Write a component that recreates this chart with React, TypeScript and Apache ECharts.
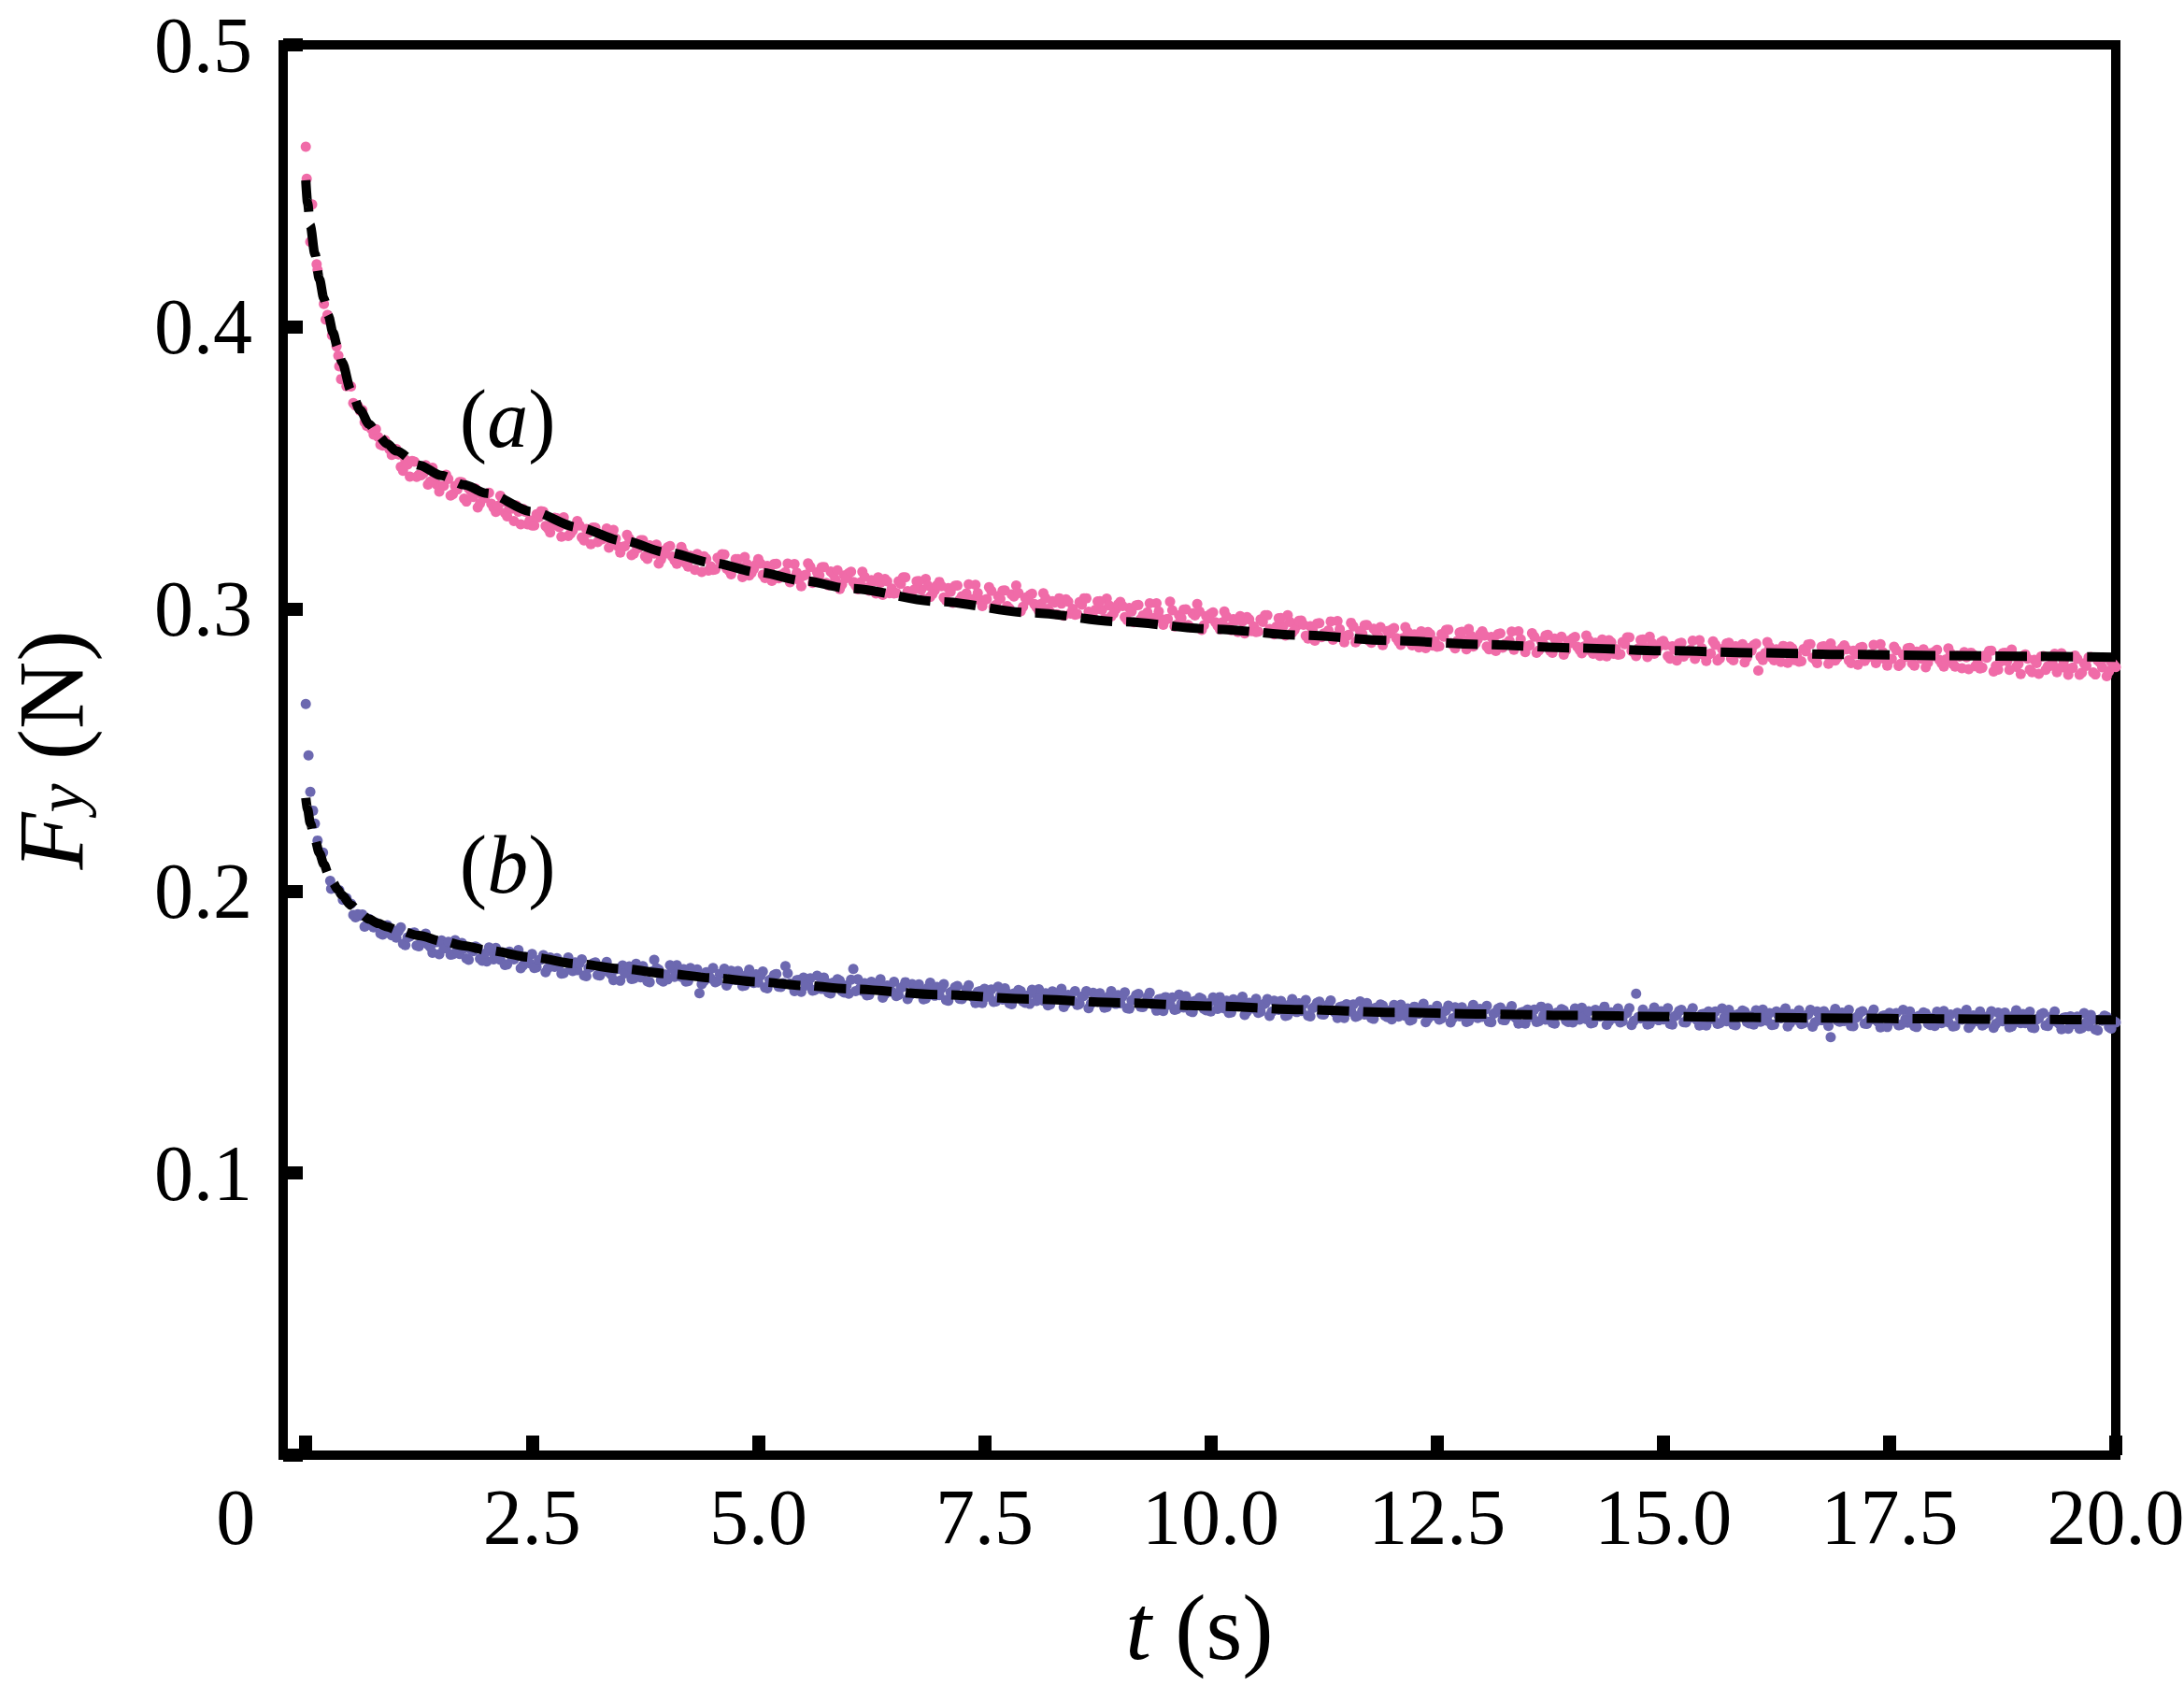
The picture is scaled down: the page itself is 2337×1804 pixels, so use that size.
import * as echarts from "echarts";
import { useEffect, useRef } from "react";

// sampled force, in mN. Tail arrays are read every 0.05 s from t = 0.5 s,
// the mid arrays every 0.05 s from t = 0.525 s (in between).
const sampleStep = 0.05;
const tailStart = 0.5;
const midStart = 0.525;

const pinkEarly: Array<[number, number]> = [
  [0, 463.9], [0.01, 452.5], [0.05, 430.2], [0.07, 443.4], [0.12, 422.2], [0.13, 420.2],
  [0.2, 408.1], [0.22, 402.6], [0.24, 404.2], [0.29, 397.0], [0.34, 393.1], [0.36, 389.8],
  [0.37, 386.0], [0.39, 381.5], [0.45, 379.0]
];

const pinkTail = [
  378.9, 372.1, 370.3, 366.2, 365.1, 361.8, 361.0, 357.9, 358.4, 354.6,
  356.7, 350.4, 352.9, 346.9, 352.2, 347.6, 348.1, 344.1, 350.1, 344.0,
  343.6, 347.6, 340.2, 343.6, 345.0, 339.1, 342.8, 339.7, 336.0, 340.4,
  340.9, 337.3, 334.4, 340.1, 334.1, 336.3, 331.2, 334.5, 335.5, 330.0,
  329.6, 333.6, 334.7, 329.4, 327.1, 332.3, 329.0, 332.5, 325.9, 327.9,
  331.2, 325.4, 328.4, 323.0, 328.8, 324.7, 325.4, 321.7, 328.0, 322.2,
  322.0, 326.3, 319.1, 322.7, 324.4, 318.7, 322.6, 319.7, 316.1, 320.7,
  321.9, 318.6, 316.0, 322.0, 316.2, 318.8, 313.9, 317.5, 318.7, 313.6,
  313.9, 318.2, 319.4, 314.4, 312.3, 317.7, 314.6, 318.4, 311.9, 314.2,
  317.7, 312.1, 315.3, 310.0, 316.0, 312.1, 313.0, 309.5, 315.9, 310.3,
  311.8, 316.2, 309.2, 313.0, 314.8, 309.2, 313.3, 310.5, 307.1, 311.9,
  312.7, 309.6, 307.0, 313.2, 307.6, 310.2, 305.5, 309.3, 310.6, 305.6,
  305.5, 309.8, 311.2, 306.3, 304.2, 309.8, 306.8, 310.6, 304.3, 306.7,
  309.6, 304.1, 307.4, 302.2, 308.3, 304.5, 305.5, 302.1, 308.6, 303.1,
  303.2, 307.7, 300.7, 304.6, 306.5, 301.0, 305.2, 308.3, 299.2, 304.0,
  304.9, 301.8, 299.4, 305.6, 300.0, 302.8, 298.1, 301.9, 303.4, 298.4,
  298.0, 302.4, 303.8, 299.0, 297.0, 302.7, 299.7, 303.7, 297.4, 299.9,
  302.5, 297.1, 300.4, 295.3, 301.4, 297.7, 298.8, 295.4, 302.0, 296.5,
  296.2, 302.6, 293.8, 297.8, 299.8, 294.3, 298.5, 301.8, 292.6, 297.5,
  298.3, 295.3, 292.8, 299.1, 293.6, 296.4, 291.8, 295.6, 297.1, 292.2,
  291.8, 296.3, 297.8, 292.9, 291.0, 296.7, 293.8, 297.8, 291.6, 294.1,
  295.9, 290.5, 293.9, 288.8, 295.0, 291.3, 292.4, 289.1, 295.7, 290.3,
  290.5, 295.1, 288.2, 292.2, 294.2, 288.8, 293.0, 290.4, 287.2, 292.2,
  292.7, 289.7, 287.3, 293.6, 288.2, 291.0, 286.4, 290.3, 291.8, 287.0,
  286.6, 291.1, 292.6, 287.9, 286.0, 291.7, 288.9, 292.9, 286.7, 289.3,
  292.1, 286.7, 290.1, 285.1, 291.3, 287.6, 288.8, 285.5, 292.1, 286.8,
  286.8, 291.4, 284.5, 288.6, 290.6, 285.2, 289.5, 286.9, 283.8, 288.7,
  289.6, 286.6, 284.3, 290.6, 285.1, 288.0, 283.4, 287.4, 288.9, 284.1,
  283.8, 288.3, 289.9, 285.1, 283.3, 289.0, 286.2, 290.2, 284.1, 286.6,
  288.7, 283.3, 286.8, 281.7, 288.0, 284.3, 285.5, 282.3, 288.9, 283.6,
  283.9, 288.5, 281.7, 285.8, 287.8, 282.5, 286.8, 284.2, 281.1, 286.1,
  287.2, 278.2, 281.9, 288.3, 282.8, 285.7, 281.2, 285.1, 286.7, 281.9,
  281.3, 285.8, 287.4, 282.7, 280.8, 286.6, 283.8, 287.8, 281.7, 284.3,
  287.1, 281.8, 285.2, 280.2, 286.5, 282.9, 284.0, 280.8, 287.5, 282.2,
  282.0, 286.6, 279.8, 283.9, 286.0, 280.7, 284.9, 282.4, 279.3, 284.3,
  284.9, 282.0, 279.6, 286.0, 280.6, 283.5, 279.0, 282.9, 284.5, 279.7,
  278.9, 283.5, 285.1, 277.8, 278.5, 284.3, 281.5, 285.6, 279.5, 276.9,
  283.9, 278.5, 282.0, 277.0, 283.3, 279.7, 280.8, 277.6, 284.3, 279.0,
  278.8, 283.5, 276.7, 280.7, 282.8, 277.5, 281.8, 279.3, 276.2, 281.2,
  279.4
];

const pinkMid = [
  373.0, 372.0, 370.5, 364.9, 363.8, 363.7, 358.3, 359.8, 356.6, 356.3,
  354.8, 349.0, 351.2, 352.5, 346.8, 347.4, 351.0, 345.2, 346.9, 341.6,
  343.7, 346.1, 340.7, 342.4, 344.9, 338.1, 341.8, 342.7, 337.4, 339.3,
  341.2, 335.9, 336.6, 338.1, 332.8, 335.6, 336.7, 330.0, 334.5, 331.4,
  329.6, 332.5, 334.5, 328.6, 329.6, 332.2, 325.6, 329.9, 326.7, 329.4,
  329.6, 324.3, 327.0, 328.9, 323.7, 324.7, 328.5, 323.0, 325.0, 320.0,
  322.2, 324.9, 319.7, 321.6, 324.4, 317.8, 321.7, 322.8, 317.6, 319.7,
  322.3, 317.3, 318.3, 320.1, 315.0, 318.2, 319.5, 313.1, 317.8, 315.1,
  314.0, 317.2, 319.3, 313.7, 314.9, 317.7, 311.3, 315.9, 312.8, 315.8,
  316.1, 311.0, 313.9, 315.9, 310.9, 312.1, 316.1, 310.8, 312.9, 308.1,
  312.1, 314.9, 309.9, 312.0, 314.9, 308.4, 312.5, 313.7, 308.7, 311.0,
  313.2, 308.4, 309.4, 311.4, 306.5, 309.7, 311.2, 305.0, 309.8, 307.2,
  305.7, 308.9, 311.2, 305.7, 306.9, 309.9, 303.6, 308.2, 305.3, 308.4,
  308.1, 303.1, 306.1, 308.2, 303.3, 304.6, 308.7, 303.5, 305.7, 301.0,
  303.5, 306.4, 301.4, 303.6, 306.6, 300.2, 304.4, 305.7, 300.8, 303.1,
  305.4, 300.6, 301.8, 303.8, 298.9, 302.3, 303.8, 297.6, 302.6, 300.0,
  298.2, 301.5, 303.8, 298.4, 299.7, 302.8, 296.5, 301.3, 298.4, 301.6,
  301.0, 296.1, 299.1, 301.3, 296.4, 297.8, 302.0, 296.8, 299.1, 294.4,
  296.5, 299.5, 294.5, 296.8, 299.9, 293.5, 297.7, 299.1, 294.2, 296.6,
  298.8, 294.1, 295.2, 297.3, 292.5, 295.9, 297.5, 291.3, 296.3, 293.8,
  292.0, 295.4, 297.8, 292.3, 293.7, 296.8, 290.6, 295.4, 292.6, 295.8,
  294.4, 289.5, 292.6, 294.8, 290.0, 291.4, 295.6, 290.5, 292.8, 288.2,
  290.8, 293.8, 288.9, 291.2, 294.3, 288.0, 292.2, 293.6, 288.9, 291.3,
  293.2, 288.5, 289.7, 291.9, 287.1, 290.5, 292.1, 286.1, 291.1, 288.6,
  286.8, 290.2, 292.7, 287.3, 288.7, 291.9, 285.7, 290.5, 287.8, 291.0,
  290.6, 285.7, 288.9, 291.1, 286.3, 287.8, 292.0, 286.9, 289.3, 284.7,
  287.1, 290.2, 285.3, 287.6, 290.8, 284.5, 288.8, 290.2, 285.4, 287.9,
  290.1, 285.5, 286.7, 288.9, 284.1, 287.6, 289.2, 283.2, 288.2, 285.8,
  284.0, 287.5, 289.9, 284.6, 286.0, 289.2, 283.0, 287.9, 285.1, 288.2,
  287.2, 282.4, 285.6, 287.8, 283.1, 284.5, 288.8, 283.8, 286.1, 281.6,
  284.2, 287.3, 282.5, 284.8, 288.0, 281.8, 286.0, 287.5, 282.8, 285.2,
  287.7, 283.1, 284.4, 286.5, 281.8, 285.3, 286.9, 280.9, 286.0, 283.4,
  281.5, 285.0, 287.5, 282.1, 283.6, 286.8, 280.6, 285.5, 282.8, 286.1,
  285.7, 280.8, 284.0, 286.3, 281.6, 283.0, 287.3, 282.3, 284.7, 279.9,
  282.3, 285.4, 280.6, 283.0, 286.2, 279.9, 284.2, 285.7, 281.0, 283.2,
  285.5, 280.8, 282.1, 284.3, 279.6, 283.1, 284.7, 278.7, 283.8, 281.1,
  279.2, 282.7, 285.2, 279.8, 281.3, 284.5, 278.4, 283.3, 280.6, 283.4,
  282.4, 277.6, 280.8, 283.1, 278.4, 279.8, 284.1, 279.1, 281.5, 276.7,
  279.2, 282.3, 277.4, 279.8, 283.0, 276.8, 281.1, 282.6, 277.9, 280.3
];

const purpleEarly: Array<[number, number]> = [
  [0, 266.3], [0.03, 248.1], [0.05, 235.2], [0.08, 228.5], [0.1, 223.9], [0.13, 217.9],
  [0.19, 213.6], [0.27, 203.6], [0.28, 200.8], [0.37, 200.3], [0.41, 196.9], [0.45, 197.5]
];

const purpleTail = [
  195.5, 190.7, 191.3, 187.4, 190.1, 187.1, 187.2, 184.6, 187.9, 184.3,
  183.5, 187.1, 180.8, 183.9, 185.3, 180.4, 183.6, 181.1, 178.1, 181.9,
  182.5, 179.8, 177.4, 182.6, 177.7, 179.7, 175.6, 178.7, 179.8, 175.3,
  175.0, 178.7, 179.8, 175.6, 173.8, 178.5, 175.8, 179.1, 173.6, 175.6,
  177.7, 173.0, 175.7, 171.2, 176.4, 173.1, 173.9, 170.9, 176.4, 171.6,
  172.0, 175.8, 169.8, 173.1, 174.7, 170.1, 173.5, 171.2, 168.4, 172.4,
  173.6, 171.0, 168.8, 174.2, 169.4, 171.6, 167.7, 175.6, 172.1, 167.9,
  168.7, 172.5, 173.7, 169.6, 167.9, 172.7, 170.1, 163.8, 168.1, 170.2,
  172.7, 168.1, 170.9, 166.5, 171.7, 168.5, 169.5, 166.5, 172.1, 167.4,
  167.6, 171.5, 165.5, 168.9, 170.6, 166.0, 173.4, 167.2, 164.5, 168.5,
  169.3, 166.8, 164.7, 170.0, 165.3, 167.6, 163.7, 167.0, 168.2, 164.0,
  163.6, 172.4, 168.7, 164.6, 163.0, 167.8, 165.3, 168.7, 163.4, 165.5,
  167.8, 163.2, 166.1, 161.7, 167.0, 163.8, 164.8, 161.9, 167.5, 162.9,
  163.1, 167.0, 161.1, 164.6, 166.3, 161.7, 165.2, 163.0, 160.3, 164.5,
  165.3, 162.8, 160.7, 166.1, 161.5, 163.8, 159.9, 163.2, 164.5, 160.4,
  160.0, 163.8, 165.2, 161.1, 159.5, 164.4, 161.9, 165.3, 160.1, 162.2,
  164.5, 160.0, 162.9, 158.5, 163.9, 160.7, 161.7, 158.9, 164.5, 160.0,
  160.2, 164.1, 158.3, 161.7, 163.5, 158.9, 162.4, 160.3, 157.6, 161.8,
  162.4, 159.9, 157.9, 163.3, 158.7, 161.0, 157.1, 160.5, 161.8, 157.7,
  157.3, 161.1, 162.4, 158.4, 156.8, 161.6, 159.1, 162.5, 157.3, 159.4,
  161.8, 157.2, 160.1, 155.7, 161.1, 157.9, 158.9, 156.0, 161.7, 157.1,
  157.5, 161.4, 155.6, 159.0, 160.8, 156.2, 159.8, 157.6, 155.0, 159.1,
  159.9, 157.5, 155.4, 160.9, 156.2, 158.6, 154.7, 158.1, 159.4, 155.3,
  154.5, 158.4, 159.7, 155.7, 154.1, 159.0, 156.5, 160.0, 154.7, 156.9,
  159.3, 154.8, 157.7, 153.4, 158.8, 155.6, 156.7, 153.9, 159.6, 155.0,
  155.4, 159.3, 153.5, 157.0, 158.7, 154.2, 157.7, 155.6, 153.0, 157.1,
  158.0, 155.6, 153.6, 159.0, 154.4, 156.8, 153.0, 156.4, 157.7, 153.6,
  153.4, 157.2, 158.6, 154.6, 153.1, 157.9, 155.5, 159.0, 153.8, 156.0,
  158.4, 153.8, 156.8, 152.5, 163.6, 154.8, 155.9, 153.0, 158.7, 154.2,
  154.5, 158.5, 152.7, 156.1, 157.9, 153.4, 157.0, 154.9, 152.3, 156.5,
  157.3, 154.9, 152.9, 158.4, 153.8, 156.2, 152.4, 155.8, 157.2, 153.1,
  152.7, 156.6, 158.0, 154.0, 152.5, 157.3, 154.9, 158.4, 153.2, 155.4,
  157.7, 153.2, 156.2, 151.9, 157.3, 154.2, 155.3, 148.2, 158.2, 153.7,
  153.9, 157.9, 152.1, 155.6, 157.4, 152.9, 156.4, 154.3, 151.7, 155.9,
  156.8, 154.4, 152.4, 157.9, 153.3, 155.6, 151.8, 155.2, 156.6, 152.5,
  152.2, 156.1, 157.5, 153.5, 152.0, 156.8, 154.4, 157.9, 152.7, 154.9,
  157.3, 152.8, 155.8, 151.5, 156.9, 153.8, 154.8, 152.0, 157.7, 153.2,
  153.2, 157.2, 151.4, 154.9, 156.7, 152.2, 155.7, 153.6, 151.0, 155.2,
  155.6, 153.2, 151.2, 156.7, 152.1, 154.5, 150.6, 154.0, 155.4, 151.3,
  153.4
];

const purpleMid = [
  191.5, 191.8, 191.7, 188.0, 187.9, 188.8, 185.0, 186.9, 185.1, 186.0,
  185.8, 181.3, 183.6, 185.1, 180.7, 181.6, 184.9, 180.2, 181.9, 177.6,
  179.7, 182.0, 177.6, 179.2, 181.6, 176.1, 179.3, 180.3, 176.0, 177.8,
  180.0, 175.8, 176.6, 178.3, 174.0, 176.8, 177.9, 172.6, 176.7, 174.4,
  172.7, 175.5, 177.3, 172.6, 173.7, 176.2, 170.7, 174.7, 172.2, 174.7,
  174.4, 170.1, 172.7, 174.4, 170.2, 171.4, 174.9, 170.4, 172.3, 168.2,
  170.8, 173.3, 169.0, 170.9, 173.4, 168.0, 171.5, 172.6, 168.4, 170.4,
  173.7, 169.6, 170.5, 172.3, 168.1, 171.0, 172.2, 167.0, 171.2, 169.0,
  167.7, 170.6, 172.5, 167.9, 169.0, 171.6, 166.3, 170.3, 167.9, 170.5,
  170.0, 165.8, 168.4, 170.2, 166.1, 167.3, 170.8, 166.4, 168.4, 164.3,
  166.5, 169.1, 164.9, 166.7, 169.3, 164.0, 167.5, 168.7, 164.5, 166.5,
  168.6, 164.5, 165.5, 167.3, 163.2, 166.1, 167.4, 162.2, 166.5, 164.3,
  162.8, 165.7, 167.7, 163.1, 164.3, 166.9, 161.6, 165.7, 163.3, 166.0,
  165.5, 161.4, 164.1, 165.9, 161.8, 163.0, 166.6, 162.3, 164.3, 160.3,
  162.5, 165.1, 160.9, 162.9, 165.5, 160.2, 163.7, 164.9, 160.9, 162.9,
  165.0, 161.0, 162.0, 163.8, 159.8, 162.7, 164.0, 158.9, 163.2, 161.0,
  159.6, 162.5, 164.5, 160.0, 161.2, 163.8, 158.6, 162.7, 160.4, 163.1,
  162.6, 158.5, 161.2, 163.1, 159.0, 160.2, 163.9, 159.5, 161.6, 157.5,
  159.6, 162.3, 158.1, 160.1, 162.7, 157.4, 161.0, 162.2, 158.2, 160.2,
  162.3, 158.2, 159.3, 161.1, 157.0, 159.9, 161.2, 156.1, 160.4, 158.3,
  156.8, 159.7, 161.7, 157.2, 158.4, 161.0, 155.7, 159.9, 157.5, 160.2,
  159.9, 155.8, 158.5, 160.4, 156.3, 157.6, 161.2, 156.9, 158.9, 155.0,
  157.2, 159.8, 155.7, 157.6, 160.3, 155.0, 158.6, 159.8, 155.8, 157.6,
  159.6, 155.5, 156.6, 158.4, 154.4, 157.3, 158.7, 153.5, 157.9, 155.8,
  154.4, 157.3, 159.4, 154.9, 156.1, 158.8, 153.6, 157.8, 155.4, 158.2,
  157.8, 153.7, 156.5, 158.3, 154.3, 155.5, 159.2, 154.9, 156.9, 153.0,
  155.3, 158.0, 153.8, 155.8, 158.5, 153.3, 156.9, 158.1, 154.1, 156.2,
  158.4, 154.4, 155.5, 157.4, 153.3, 156.3, 157.7, 152.6, 157.0, 154.9,
  153.4, 156.4, 158.5, 154.0, 155.3, 158.0, 152.7, 156.9, 154.6, 157.4,
  157.0, 152.9, 155.6, 157.5, 153.5, 154.8, 158.5, 154.2, 156.3, 152.3,
  154.6, 157.3, 153.2, 155.2, 157.9, 152.7, 156.3, 157.6, 153.6, 155.7,
  157.7, 153.7, 154.8, 156.7, 152.7, 155.7, 157.1, 152.0, 156.4, 154.3,
  152.8, 155.8, 157.9, 153.4, 154.7, 157.4, 152.2, 156.4, 154.1, 156.9,
  156.4, 152.2, 155.0, 157.0, 153.0, 154.2, 158.0, 153.6, 155.7, 151.8,
  154.0, 156.7, 152.6, 154.6, 157.3, 152.1, 155.7, 157.0, 153.0, 155.1,
  157.2, 153.2, 154.3, 156.2, 152.2, 155.2, 156.6, 151.5, 155.9, 153.8,
  152.3, 155.3, 157.4, 152.9, 154.2, 156.9, 151.7, 155.9, 153.6, 156.4,
  155.7, 151.6, 154.4, 156.3, 152.3, 153.6, 157.3, 153.0, 155.1, 151.2,
  152.8, 155.5, 151.4, 153.4, 156.1, 150.9, 154.5, 155.8, 151.8, 153.9
];

// fitted curves (dashed), mN
const fitTimes = [
  0, 0.02, 0.05, 0.1, 0.15, 0.2, 0.25, 0.3, 0.35, 0.4, 0.5, 0.6, 0.7, 0.8, 0.9, 1.0,
  1.25, 1.5, 1.75, 2, 2.5, 3, 3.5, 4, 4.5, 5, 5.5, 6, 7, 8, 9, 10, 11, 12, 13, 14, 15,
  16, 17, 18, 19, 20
];
const pinkFit = [
  452, 444, 436, 426, 417, 410, 404, 398, 393, 387.5, 377.5, 370.5, 365.5, 361.5, 358.5, 356,
  351, 347.3, 344, 341, 334.5, 329, 324.2, 320, 316.3, 313, 310, 307.3, 302.6, 298.7, 295.5,
  292.9, 290.7, 288.8, 287.4, 286.2, 285.2, 284.5, 283.9, 283.5, 283.2, 282.9
];
const purpleFit = [
  233, 229, 224, 218.5, 213.5, 209.5, 206, 203, 200.6, 198.5, 195, 192, 190, 188.5, 187.3, 186.3,
  184.2, 182.3, 180.6, 179.0, 176.5, 174.2, 172.4, 170.7, 169.2, 167.8, 166.5, 165.3, 163.3,
  161.7, 160.4, 159.2, 158.0, 157.0, 156.4, 155.9, 155.5, 155.2, 154.9, 154.7, 154.5, 154.3
];

const xTickValues = [0, 2.5, 5, 7.5, 10, 12.5, 15, 17.5, 20];
const xTickLabels = ["0", "2.5", "5.0", "7.5", "10.0", "12.5", "15.0", "17.5", "20.0"];
const yTickValues = [0, 0.1, 0.2, 0.3, 0.4, 0.5];
const yLabelValues = [0.1, 0.2, 0.3, 0.4, 0.5];

const annotations = [
  { tag: "a", t: 2.23, force: 0.3672 },
  { tag: "b", t: 2.23, force: 0.2093 }
];

const FONT = "'Liberation Serif', 'Times New Roman', Times, serif";
const PINK = "#f06ba8";
const PURPLE = "#6c68b0";

function samples(early: Array<[number, number]>, tail: number[], mid: number[]) {
  const points = early.map(([t, mN]) => [t, mN / 1000]);
  tail.forEach((mN, i) => {
    points.push([Number((tailStart + i * sampleStep).toFixed(3)), mN / 1000]);
  });
  mid.forEach((mN, i) => {
    points.push([Number((midStart + i * sampleStep).toFixed(3)), mN / 1000]);
  });
  return points;
}

function fitLine(values: number[]) {
  return {
    type: "line",
    data: fitTimes.map((t, i) => [t, values[i] / 1000]),
    smooth: 0.3,
    smoothMonotone: "x",
    showSymbol: false,
    symbol: "none",
    lineStyle: { color: "#000", width: 10, type: [34, 15] },
    z: 5
  };
}

function dots(data: number[][], color: string) {
  return {
    type: "scatter",
    data,
    symbol: "circle",
    symbolSize: 11,
    itemStyle: { color, opacity: 1 },
    z: 3
  };
}

export default function App() {
  const ref = useRef<HTMLDivElement | null>(null);

  useEffect(() => {
    if (!ref.current) {
      return;
    }
    const chart = echarts.init(ref.current, null, { renderer: "svg" });
    chart.setOption({
      animation: false,
      backgroundColor: "#fff",
      grid: {
        left: 303,
        right: 73,
        top: 48,
        bottom: 247,
        outerBoundsMode: "none",
        containLabel: false,
        show: true,
        borderColor: "#000",
        borderWidth: 10
      },
      xAxis: {
        type: "value",
        min: -0.25,
        max: 20,
        name: "{i|t}{n| (s)}",
        nameLocation: "middle",
        nameGap: 124,
        nameTextStyle: {
          color: "#000",
          fontFamily: FONT,
          fontSize: 100,
          rich: {
            i: { fontFamily: FONT, fontSize: 100, fontStyle: "italic", lineHeight: 120, color: "#000" },
            n: { fontFamily: FONT, fontSize: 100, lineHeight: 120, color: "#000" }
          }
        },
        axisLine: { show: false, onZero: false },
        axisTick: {
          show: true,
          inside: true,
          length: 21,
          customValues: xTickValues,
          lineStyle: { color: "#000", width: 14 }
        },
        axisLabel: {
          customValues: xTickValues,
          margin: 24,
          color: "#000",
          fontFamily: FONT,
          fontSize: 84,
          formatter: (value: number) => {
            const index = xTickValues.indexOf(value);
            const text = index >= 0 ? xTickLabels[index] : "";
            return value === 0 ? `{origin|${text}}` : text;
          },
          rich: {
            origin: { fontFamily: FONT, fontSize: 84, color: "#000", padding: [0, 150, 0, 0] }
          }
        },
        splitLine: { show: false }
      },
      yAxis: {
        type: "value",
        min: 0,
        max: 0.5,
        interval: 0.1,
        name: "{f|F}{sub|y}{n| (N)}",
        nameLocation: "middle",
        nameGap: 204,
        nameRotate: 90,
        nameTextStyle: {
          color: "#000",
          fontFamily: FONT,
          fontSize: 100,
          rich: {
            f: { fontFamily: FONT, fontSize: 100, fontStyle: "italic", lineHeight: 90, verticalAlign: "middle", color: "#000" },
            sub: { fontFamily: FONT, fontSize: 70, fontStyle: "italic", lineHeight: 34, verticalAlign: "bottom", color: "#000" },
            n: { fontFamily: FONT, fontSize: 100, lineHeight: 90, verticalAlign: "middle", color: "#000" }
          }
        },
        axisLine: { show: false, onZero: false },
        axisTick: {
          show: true,
          inside: true,
          length: 21,
          customValues: yTickValues,
          lineStyle: { color: "#000", width: 14 }
        },
        axisLabel: {
          customValues: yLabelValues,
          margin: 33,
          color: "#000",
          fontFamily: FONT,
          fontSize: 84,
          formatter: (value: number) => value.toFixed(1)
        },
        splitLine: { show: false }
      },
      series: [
        dots(samples(pinkEarly, pinkTail, pinkMid), PINK),
        dots(samples(purpleEarly, purpleTail, purpleMid), PURPLE),
        fitLine(pinkFit),
        fitLine(purpleFit),
        {
          type: "scatter",
          silent: true,
          symbolSize: 1,
          itemStyle: { color: "rgba(0,0,0,0)", opacity: 1 },
          data: annotations.map((a) => ({
            value: [a.t, a.force],
            label: { formatter: `{p|(}{i|${a.tag}}{p|)}` }
          })),
          label: {
            show: true,
            position: "inside",
            opacity: 1,
            color: "#000",
            textBorderWidth: 0,
            fontFamily: FONT,
            fontSize: 88,
            rich: {
              p: { fontFamily: FONT, fontSize: 88, color: "#000", textBorderWidth: 0 },
              i: { fontFamily: FONT, fontSize: 88, fontStyle: "italic", color: "#000", textBorderWidth: 0 }
            }
          },
          z: 6
        }
      ]
    });

    return () => {
      chart.dispose();
    };
  }, []);

  return (
    <div
      ref={ref}
      style={{ position: "absolute", left: 0, top: 0, width: 2337, height: 1804, background: "#fff" }}
    />
  );
}
